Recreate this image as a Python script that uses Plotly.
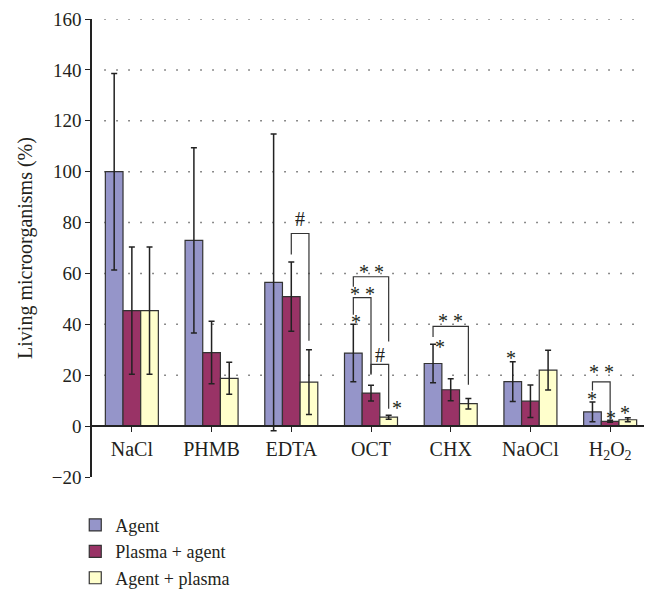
import plotly.graph_objects as go

# ---------------- data ----------------
categories = ["NaCl", "PHMB", "EDTA", "OCT", "CHX", "NaOCl", "H<sub>2</sub>O<sub>2</sub>"]
series_names = ["Agent", "Plasma + agent", "Agent + plasma"]

agent = [100, 73, 56.5, 28.7, 24.6, 17.5, 5.6]
agent_err = [38.6, 36.4, 58.3, 11.3, 7.6, 7.8, 3.9]
plasma_agent = [45.4, 28.9, 50.9, 13.0, 14.3, 9.8, 1.9]
plasma_agent_err = [25.0, 12.3, 13.6, 3.1, 4.3, 6.4, 0.4]
agent_plasma = [45.4, 18.8, 17.3, 3.5, 8.8, 22.0, 2.5]
agent_plasma_err = [25.0, 6.3, 12.7, 0.8, 2.1, 7.8, 0.8]

y_ticks = [-20, 0, 20, 40, 60, 80, 100, 120, 140, 160]
grid_values = [20, 40, 60, 80, 100, 120, 140, 160]

# significance brackets: (category, left series, right series, top, left end, right end, label, label y)
brackets = [
    (2, 1, 2, 75.7, 67.4, 33.5, "#", 81.4),
    (3, 0, 2, 58.7, 54.8, 33.3, "* *", 62.0),
    (3, 0, 1, 50.5, 43.8, 20.6, "* *", 53.4),
    (3, 1, 2, 24.3, 20.2, 6.8, "#", 27.8),
    (4, 0, 2, 39.2, 35.0, 16.3, "* *", 42.9),
    (6, 0, 1, 17.4, 14.0, 2.5, "* *", 23.0),
]
# single stars: (category, series, y)
stars = [
    (3, 0, 42.3),
    (3, 2, 8.8),
    (4, 0, 32.7),
    (5, 0, 28.5),
    (6, 0, 12.1),
    (6, 1, 4.9),
    (6, 2, 6.8),
]
star_dx = {(3, 0): 0.03, (3, 2): 0.1, (4, 0): 0.09, (5, 0): -0.02, (6, 0): -0.01, (6, 1): 0.01, (6, 2): -0.04}

# ---------------- styling ----------------
FONT = "Liberation Serif, Times New Roman, serif"
TXT = "#231F20"
colors = ["#9595C9", "#993366", "#FFFFCC"]
BARGAP = 0.335
bar_w = (1 - BARGAP) / 3
offsets = [-bar_w, 0.0, bar_w]

fig = go.Figure()
for name, vals, errs, col in zip(series_names,
                                 [agent, plasma_agent, agent_plasma],
                                 [agent_err, plasma_agent_err, agent_plasma_err],
                                 colors):
    fig.add_trace(go.Bar(
        x=list(range(len(categories))), y=vals, name=name,
        marker=dict(color=col, line=dict(color="#333333", width=1.2)),
        error_y=dict(type="data", array=errs, visible=True, color="#222222",
                     thickness=1.5, width=3),
    ))

shapes = []
for v in grid_values:
    shapes.append(dict(type="line", xref="paper", yref="y", x0=0.022, x1=1, y0=v, y1=v,
                       line=dict(color="#666666", width=1.5, dash="1.5px,10.5px"), layer="below"))

annotations = []
for cat, s1, s2, top, lb, rb, label, ly in brackets:
    xa = cat + offsets[s1]
    xb = cat + offsets[s2]
    shapes.append(dict(type="path", xref="x", yref="y",
                       path=f"M {xa},{lb} L {xa},{top} L {xb},{top} L {xb},{rb}",
                       line=dict(color="#333333", width=1.2)))
    annotations.append(dict(x=(xa + xb) / 2, y=ly, xref="x", yref="y", text=label,
                            showarrow=False, font=dict(family=FONT, size=20, color=TXT),
                            yanchor="middle", yshift=-4 if "*" in label else 0))
for cat, s, y in stars:
    annotations.append(dict(x=cat + offsets[s] + star_dx[(cat, s)], y=y, xref="x", yref="y",
                            text="*", showarrow=False,
                            font=dict(family=FONT, size=20, color=TXT),
                            yanchor="middle", yshift=-4))

# the page body has an 8px default margin, so the figure is sized/margined to compensate
fig.update_layout(
    width=644, height=581,
    margin=dict(l=84, r=2, t=11, b=112, autoexpand=False),
    plot_bgcolor="white", paper_bgcolor="white",
    barmode="group", bargap=BARGAP, bargroupgap=0,
    font=dict(family=FONT, size=20, color=TXT),
    showlegend=True,
    legend=dict(x=-0.03, y=-0.065, xanchor="left", yanchor="top",
                font=dict(family=FONT, size=18, color=TXT),
                bgcolor="rgba(0,0,0,0)", tracegroupgap=0),
    xaxis=dict(
        tickmode="array", tickvals=list(range(len(categories))), ticktext=categories,
        range=[-0.5, len(categories) - 0.5],
        anchor="free", position=20 / 180,
        showline=True, linecolor="#222222", linewidth=1.5,
        ticks="outside", tickson="boundaries", ticklen=5, tickcolor="#222222",
        ticklabelstandoff=0,
        tickfont=dict(family=FONT, size=20, color=TXT),
        showgrid=False, zeroline=False,
    ),
    yaxis=dict(
        range=[-20, 160], tickvals=y_ticks,
        showline=True, linecolor="#222222", linewidth=1.5,
        ticks="outside", ticklen=5, tickcolor="#222222",
        tickfont=dict(family=FONT, size=19, color=TXT),
        showgrid=False, zeroline=False,
        title=dict(text="Living microorganisms (%)", font=dict(family=FONT, size=20, color=TXT),
                   standoff=14),
    ),
    shapes=shapes,
    annotations=annotations,
)

fig.write_html("out.html")
